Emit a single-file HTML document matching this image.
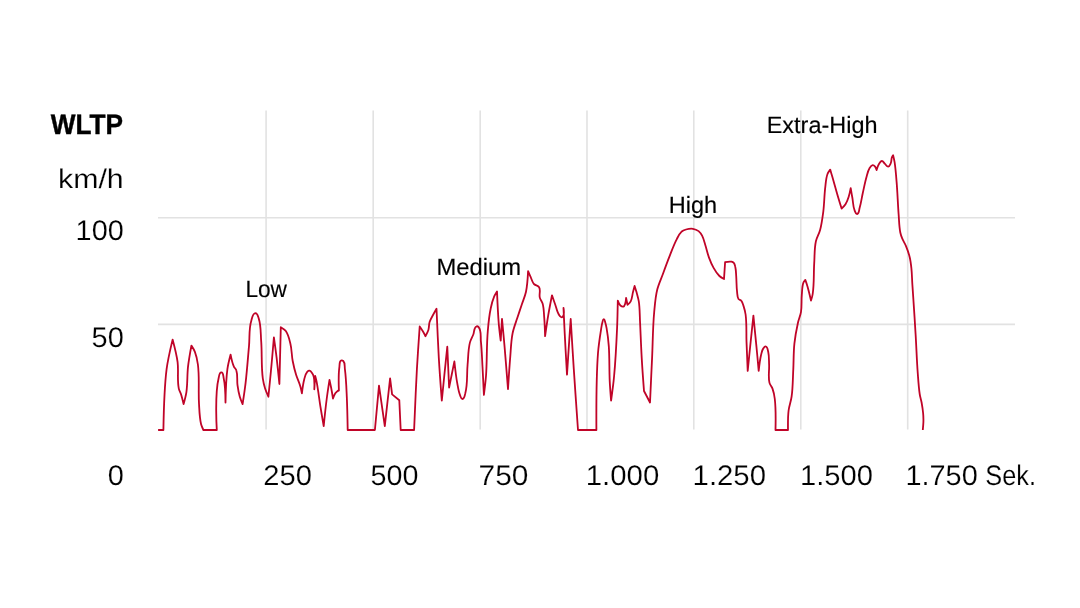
<!DOCTYPE html>
<html><head><meta charset="utf-8"><title>WLTP</title>
<style>
html,body{margin:0;padding:0;background:#fff;}
body{width:1080px;height:608px;overflow:hidden;font-family:"Liberation Sans",sans-serif;}
svg{display:block;}
text{font-family:"Liberation Sans",sans-serif;fill:#000;}
</style></head><body>
<svg width="1080" height="608" viewBox="0 0 1080 608">
<rect width="1080" height="608" fill="#ffffff"/>
<g stroke="#e2e2e2" stroke-width="1.6" fill="none">
<line x1="158" y1="217.8" x2="1015" y2="217.8"/>
<line x1="158" y1="324.4" x2="1015" y2="324.4"/>
<line x1="266.1" y1="110.6" x2="266.1" y2="429.6"/>
<line x1="373.2" y1="110.6" x2="373.2" y2="429.6"/>
<line x1="480.2" y1="110.6" x2="480.2" y2="429.6"/>
<line x1="587.0" y1="110.6" x2="587.0" y2="429.6"/>
<line x1="693.8" y1="110.6" x2="693.8" y2="429.6"/>
<line x1="800.8" y1="110.6" x2="800.8" y2="429.6"/>
<line x1="907.7" y1="110.6" x2="907.7" y2="429.6"/>
</g>
<path fill="none" stroke="#c00428" stroke-width="1.8" stroke-linejoin="round" stroke-linecap="butt" d="M158.1,430.0 L163.4,430.0 C163.4,430.0 164.1,389.1 166.6,369.1 C167.9,359.2 172.6,339.6 172.6,339.6 C172.6,339.6 176.6,354.6 177.6,362.2 C178.7,370.8 177.0,380.1 178.8,388.6 C179.2,390.6 180.5,392.4 181.1,394.4 C182.1,397.5 183.6,404.1 183.6,404.1 C183.6,404.1 185.8,396.1 186.4,392.1 C187.6,383.8 187.1,375.1 188.0,366.8 C188.8,359.8 191.4,345.6 191.4,345.6 C191.4,345.6 194.0,349.6 194.9,351.8 C196.5,355.8 197.3,360.2 197.9,364.5 C199.6,377.3 198.2,390.7 199.0,403.6 C199.4,410.5 199.5,417.6 201.1,424.3 C201.6,426.3 203.4,430.0 203.4,430.0 L216.8,430.0 C216.8,430.0 214.6,394.9 218.6,378.3 C219.1,376.2 219.2,372.2 221.4,372.3 C223.5,372.4 223.2,376.2 223.7,378.3 C225.4,386.1 225.5,402.5 225.5,402.5 C225.5,402.5 225.9,380.0 227.4,369.1 C228.1,364.2 230.6,354.6 230.6,354.6 C230.6,354.6 232.2,363.0 234.0,366.8 C234.6,368.0 235.9,368.9 236.3,370.2 C237.9,374.9 236.8,380.3 237.5,385.2 C238.0,389.0 238.7,393.0 239.8,396.7 C240.5,399.2 242.6,404.1 242.6,404.1 C242.6,404.1 244.8,389.9 245.6,382.9 C247.0,370.8 247.9,358.2 249.0,346.1 C249.8,337.7 248.8,328.7 251.3,320.7 C252.1,318.0 252.6,313.2 255.5,313.1 C257.5,313.1 258.0,316.5 258.7,318.4 C261.1,325.6 260.6,333.8 261.2,341.4 C262.1,353.6 261.2,366.2 262.8,378.3 C263.3,381.8 264.1,385.3 265.1,388.6 C266.0,391.4 268.4,396.7 268.4,396.7 C268.4,396.7 270.1,379.8 270.9,371.4 C272.0,360.2 273.9,337.3 273.9,337.3 C273.9,337.3 275.8,350.9 276.6,357.6 C277.6,366.3 279.4,384.0 279.4,384.0 L280.8,327.2 C280.8,327.2 284.6,329.4 285.8,331.1 C288.4,334.7 289.3,339.4 290.4,343.7 C291.8,349.3 291.6,355.3 292.7,361.0 C293.6,365.6 294.7,370.3 296.1,374.8 C297.3,378.7 299.2,382.4 300.3,386.3 C301.0,388.6 301.9,393.3 301.9,393.3 C301.9,393.3 303.0,383.9 304.2,379.4 C304.9,376.8 305.4,373.8 307.2,371.8 C307.8,371.2 308.7,370.6 309.5,370.7 C310.7,370.9 311.5,372.2 312.2,373.2 C313.0,374.3 313.5,375.7 313.8,377.1 C314.7,381.0 314.3,389.3 314.3,389.3 L315.2,376.0 C315.2,376.0 316.1,379.1 316.4,380.6 C318.1,388.9 319.0,397.6 320.3,405.9 C321.4,412.6 323.7,426.2 323.7,426.2 C323.7,426.2 325.5,408.0 326.7,399.0 C327.5,392.7 329.5,379.9 329.5,379.9 C329.5,379.9 330.6,385.0 331.1,387.5 C331.8,391.1 333.0,398.5 333.0,398.5 C333.0,398.5 334.3,394.9 335.3,393.3 C335.9,392.4 336.7,391.5 337.6,390.9 C338.0,390.7 338.9,390.5 338.9,390.5 C338.9,390.5 338.3,374.5 339.4,366.8 C339.7,364.7 339.2,361.7 341.0,360.6 C341.6,360.2 342.7,360.5 343.3,361.0 C345.2,362.9 344.5,366.4 344.9,369.1 C346.1,378.2 346.4,387.6 346.8,396.7 C347.3,407.7 347.7,430.0 347.7,430.0 L374.9,430.0 L379.0,385.7 L384.8,426.2 L390.1,378.3 L392.1,394.4 L399.3,400.2 L400.7,430.0 L414.1,430.0 C414.1,430.0 415.8,389.2 416.9,369.1 C417.7,355.0 419.7,326.5 419.7,326.5 C419.7,326.5 421.8,329.5 422.7,331.1 C423.7,332.7 425.4,336.2 425.4,336.2 C425.4,336.2 427.7,332.1 428.4,329.9 C429.2,327.3 428.8,324.4 429.6,321.9 C430.4,319.5 431.8,317.2 433.0,315.0 C434.1,312.9 436.5,308.7 436.5,308.7 C436.5,308.7 437.9,341.5 438.8,357.6 C439.6,371.8 441.8,400.6 441.8,400.6 C441.8,400.6 443.6,382.6 444.5,373.7 C445.4,364.8 447.3,346.7 447.3,346.7 L449.1,387.5 C449.1,387.5 451.0,378.3 451.9,373.7 C452.7,369.7 454.4,361.5 454.4,361.5 C454.4,361.5 455.9,375.9 457.2,382.9 C458.0,387.1 458.5,391.7 460.2,395.6 C460.7,396.8 461.1,399.1 462.5,399.0 C464.6,398.9 464.7,395.3 465.3,393.3 C467.8,384.1 466.7,374.0 467.6,364.5 C468.3,357.3 468.1,349.6 469.9,342.6 C470.6,339.8 472.2,337.2 473.3,334.5 C474.3,331.9 473.8,327.7 476.3,326.5 C477.0,326.1 478.1,326.6 478.6,327.2 C481.7,330.8 480.4,336.7 480.9,341.4 C481.8,349.7 482.0,358.4 482.5,366.8 C483.0,376.1 483.9,394.9 483.9,394.9 C483.9,394.9 485.5,382.3 486.0,376.0 C487.1,361.2 486.5,345.8 487.8,331.0 C488.4,323.4 489.2,315.5 490.8,308.0 C491.6,304.1 492.7,300.1 494.2,296.4 C494.9,294.7 497.0,291.4 497.0,291.4 C497.0,291.4 497.9,313.3 498.8,324.1 C499.3,329.6 500.7,340.7 500.7,340.7 L502.0,318.8 C502.0,318.8 503.8,337.8 504.6,347.1 C505.8,361.0 508.0,389.2 508.0,389.2 C508.0,389.2 509.4,367.1 510.3,356.3 C510.9,348.7 511.1,340.8 512.6,333.3 C513.6,328.2 515.6,323.2 517.2,318.3 C518.7,313.7 520.3,309.1 521.8,304.5 C523.2,300.3 525.1,296.1 526.0,291.8 C527.4,285.1 528.1,271.1 528.1,271.1 C528.1,271.1 529.7,275.0 530.6,276.9 C531.6,279.2 532.2,281.9 533.8,283.8 C535.2,285.4 538.0,285.4 539.1,287.2 C540.9,290.2 538.9,294.3 539.8,297.6 C540.3,299.7 542.0,301.4 542.6,303.4 C543.9,307.8 543.8,312.6 544.2,317.2 C544.7,323.4 545.1,336.1 545.1,336.1 C545.1,336.1 547.1,321.9 548.3,314.9 C549.4,308.4 552.0,295.3 552.0,295.3 C552.0,295.3 554.1,301.5 555.2,304.5 C556.6,308.3 557.1,313.0 559.8,316.0 C560.4,316.6 561.3,317.6 562.1,317.2 C564.8,315.8 563.5,308.0 563.5,308.0 C563.5,308.0 564.3,325.0 564.7,333.3 C565.4,347.0 567.0,374.7 567.0,374.7 C567.0,374.7 568.2,356.2 568.8,347.1 C569.4,337.8 570.7,319.0 570.7,319.0 C570.7,319.0 572.7,352.6 573.8,369.1 C575.1,389.2 578.0,430.0 578.0,430.0 L596.4,430.0 C596.4,430.0 596.1,378.3 598.0,353.0 C598.6,345.3 599.8,337.5 601.0,329.9 C601.4,327.3 601.7,324.5 602.5,322.0 C602.8,321.0 602.8,319.2 603.8,319.2 C604.9,319.2 604.8,321.2 605.2,322.2 C605.9,324.3 606.3,326.6 606.7,328.8 C607.7,334.5 608.4,340.4 608.8,346.1 C609.6,357.5 609.2,369.2 609.7,380.6 C610.0,387.2 611.1,400.6 611.1,400.6 C611.1,400.6 613.4,384.1 614.1,376.0 C615.6,360.1 616.4,343.6 617.1,327.6 C617.5,318.7 617.8,300.6 617.8,300.6 C617.8,300.6 619.0,304.3 620.4,305.5 C621.2,306.2 622.4,307.0 623.4,306.6 C624.5,306.2 624.8,304.7 625.2,303.6 C625.9,301.8 626.1,297.9 626.1,297.9 L627.5,304.8 C627.5,304.8 630.0,302.7 630.7,301.3 C632.2,298.5 632.2,295.1 633.0,292.1 C633.5,290.1 634.6,285.9 634.6,285.9 C634.6,285.9 635.9,290.0 636.5,292.1 C637.3,295.1 638.3,298.2 638.8,301.3 C639.8,307.7 639.7,314.5 640.0,321.0 C640.6,333.1 641.0,345.5 641.7,357.6 C642.3,368.6 644.0,391.0 644.0,391.0 L650.0,402.5 C650.0,402.5 651.4,372.4 652.1,357.6 C652.8,342.6 652.8,327.0 654.2,312.0 C654.9,304.6 655.4,297.0 657.2,289.8 C658.5,284.3 661.1,279.0 663.0,273.7 C665.2,267.6 667.5,261.3 669.9,255.3 C672.1,249.9 674.1,244.2 676.8,239.1 C678.1,236.6 679.3,233.7 681.4,231.8 C682.7,230.7 684.4,230.0 686.0,229.5 C688.2,228.9 690.6,228.5 692.9,228.8 C694.9,229.1 697.0,229.9 698.6,231.1 C700.1,232.3 701.2,234.0 702.1,235.7 C703.8,238.9 704.5,242.6 705.6,246.1 C706.8,249.9 707.6,253.9 709.0,257.6 C710.3,261.1 711.7,264.7 713.6,267.9 C715.2,270.8 717.0,273.7 719.4,276.0 C720.7,277.3 724.0,279.0 724.0,279.0 L725.1,262.2 C725.1,262.2 729.4,261.3 731.5,261.7 C732.3,261.9 733.2,262.3 733.8,262.9 C734.8,264.0 735.0,265.6 735.3,267.0 C736.0,269.9 736.0,273.0 736.2,276.0 C736.6,281.3 736.4,286.8 737.1,292.1 C737.4,294.4 737.2,297.1 738.5,299.0 C739.1,299.8 740.5,299.8 741.2,300.6 C742.5,302.0 742.9,304.1 743.5,305.9 C744.4,308.7 745.2,311.6 745.6,314.5 C746.8,323.3 746.2,332.5 746.5,341.4 C746.9,351.1 747.7,370.9 747.7,370.9 C747.7,370.9 749.7,351.1 750.7,341.4 C751.6,332.9 753.4,315.7 753.4,315.7 C753.4,315.7 755.4,336.1 756.4,346.1 C757.2,354.3 758.7,370.9 758.7,370.9 C758.7,370.9 759.8,360.4 761.0,355.3 C761.6,353.0 761.9,350.3 763.3,348.4 C763.9,347.5 764.9,346.2 765.9,346.5 C767.7,347.0 767.7,349.9 768.2,351.8 C769.2,355.9 768.9,360.3 769.1,364.5 C769.4,370.6 768.0,377.0 769.5,382.9 C770.0,385.0 771.8,386.6 772.5,388.6 C773.7,391.9 774.4,395.5 774.8,399.0 C776.0,409.2 775.5,430.0 775.5,430.0 L788.0,430.0 C788.0,430.0 787.8,416.9 788.6,410.5 C789.2,405.9 791.0,401.3 791.6,396.7 C792.9,387.7 792.8,378.2 793.3,369.1 C793.7,360.7 793.5,352.0 794.4,343.7 C795.1,336.8 796.4,329.8 797.9,323.0 C798.7,319.3 800.4,315.6 801.0,311.8 C801.9,306.3 801.3,300.4 801.8,294.8 C802.2,290.6 802.0,286.1 803.6,282.2 C804.0,281.3 805.3,279.9 805.3,279.9 C805.3,279.9 806.9,284.3 807.5,286.5 C808.8,291.1 811.0,300.5 811.0,300.5 C811.0,300.5 812.4,296.2 812.7,294.0 C814.2,284.0 813.6,273.5 814.2,263.4 C814.7,256.1 814.3,248.4 815.9,241.2 C816.8,237.4 819.1,233.9 820.1,230.1 C821.7,224.1 822.5,217.7 823.3,211.6 C824.3,203.5 824.3,195.0 825.3,186.9 C825.8,182.6 826.0,178.0 827.5,174.0 C828.1,172.4 830.2,169.6 830.2,169.6 C830.2,169.6 831.7,174.6 832.4,177.0 C833.9,182.3 835.4,187.7 836.9,193.0 C838.4,198.2 841.6,208.6 841.6,208.6 C841.6,208.6 844.5,205.8 845.5,204.2 C846.9,201.9 847.9,199.3 848.7,196.7 C849.6,193.9 850.7,188.1 850.7,188.1 C850.7,188.1 851.8,194.7 852.4,198.0 C853.1,202.1 853.0,206.5 854.6,210.3 C855.2,211.7 855.6,214.2 857.1,214.0 C859.3,213.8 859.0,210.0 859.6,207.9 C861.1,203.1 861.7,197.9 862.8,193.0 C864.0,187.7 865.0,182.2 866.5,177.0 C867.3,174.1 867.8,170.9 869.4,168.4 C870.2,167.1 871.2,165.4 872.7,165.2 C873.6,165.1 874.5,165.9 875.1,166.6 C875.9,167.5 876.6,170.1 876.6,170.1 C876.6,170.1 877.7,166.0 878.8,164.2 C879.6,163.0 880.4,161.1 881.8,161.0 C883.2,160.9 883.9,163.0 885.0,163.9 C886.0,164.8 886.8,166.7 888.2,166.6 C889.5,166.5 890.1,164.6 890.7,163.4 C891.6,161.5 891.2,159.2 891.9,157.3 C892.2,156.6 893.1,155.3 893.1,155.3 C893.1,155.3 894.2,159.9 894.6,162.2 C895.6,168.7 896.1,175.4 896.6,181.9 C897.5,192.5 897.8,203.4 898.6,214.0 C899.1,220.1 899.1,226.5 900.3,232.5 C900.7,234.6 901.5,236.7 902.3,238.7 C903.3,241.2 905.0,243.6 906.0,246.1 C907.5,249.7 908.8,253.4 909.7,257.2 C910.6,260.8 911.0,264.6 911.4,268.3 C912.0,273.8 912.0,279.5 912.4,285.0 C912.7,289.9 913.1,294.8 913.4,299.7 C914.2,311.1 914.9,322.9 915.6,334.3 C916.4,347.3 916.8,360.8 917.8,373.8 C918.3,380.5 918.7,387.4 919.7,394.0 C920.1,396.8 921.1,399.7 921.6,402.5 C922.2,405.9 922.8,409.5 923.1,413.0 C923.4,416.0 923.5,419.0 923.4,422.0 C923.3,424.6 922.8,430.0 922.8,430.0"/>
<g stroke="#fff" stroke-width="0.18" style="will-change:transform" text-rendering="geometricPrecision">
<text x="50.64" y="134.00" font-size="28.2" font-weight="bold" stroke="#000" stroke-width="0.4" textLength="72.33" lengthAdjust="spacingAndGlyphs">WLTP</text>
<text x="57.99" y="188.00" font-size="26.9" textLength="65.72" lengthAdjust="spacingAndGlyphs">km/h</text>
<text x="75.61" y="240.00" font-size="28.3" textLength="48.11" lengthAdjust="spacingAndGlyphs">100</text>
<text x="91.60" y="347.00" font-size="28.3" textLength="32.20" lengthAdjust="spacingAndGlyphs">50</text>
<text x="107.66" y="485.00" font-size="28.3" textLength="16.11" lengthAdjust="spacingAndGlyphs">0</text>
<text x="263.32" y="485.00" font-size="28.3" textLength="48.67" lengthAdjust="spacingAndGlyphs">250</text>
<text x="370.62" y="485.00" font-size="28.3" textLength="47.90" lengthAdjust="spacingAndGlyphs">500</text>
<text x="478.58" y="485.00" font-size="28.3" textLength="49.79" lengthAdjust="spacingAndGlyphs">750</text>
<text x="585.76" y="485.00" font-size="28.3" textLength="73.47" lengthAdjust="spacingAndGlyphs">1.000</text>
<text x="692.59" y="485.00" font-size="28.3" textLength="73.44" lengthAdjust="spacingAndGlyphs">1.250</text>
<text x="799.95" y="485.00" font-size="28.3" textLength="72.96" lengthAdjust="spacingAndGlyphs">1.500</text>
<text x="905.48" y="485.00" font-size="28.3" textLength="72.28" lengthAdjust="spacingAndGlyphs">1.750</text>
<text x="985.31" y="485.00" font-size="28.3" textLength="50.71" lengthAdjust="spacingAndGlyphs">Sek.</text>
<text x="245.40" y="297.00" font-size="23.6" stroke="#000" stroke-width="0.15" textLength="41.63" lengthAdjust="spacingAndGlyphs">Low</text>
<text x="436.41" y="275.00" font-size="23.6" stroke="#000" stroke-width="0.15" textLength="84.75" lengthAdjust="spacingAndGlyphs">Medium</text>
<text x="668.86" y="213.00" font-size="23.6" stroke="#000" stroke-width="0.15" textLength="48.32" lengthAdjust="spacingAndGlyphs">High</text>
<text x="766.71" y="133.00" font-size="23.6" stroke="#000" stroke-width="0.15" textLength="110.80" lengthAdjust="spacingAndGlyphs">Extra-High</text>
</g>
</svg>
</body></html>
